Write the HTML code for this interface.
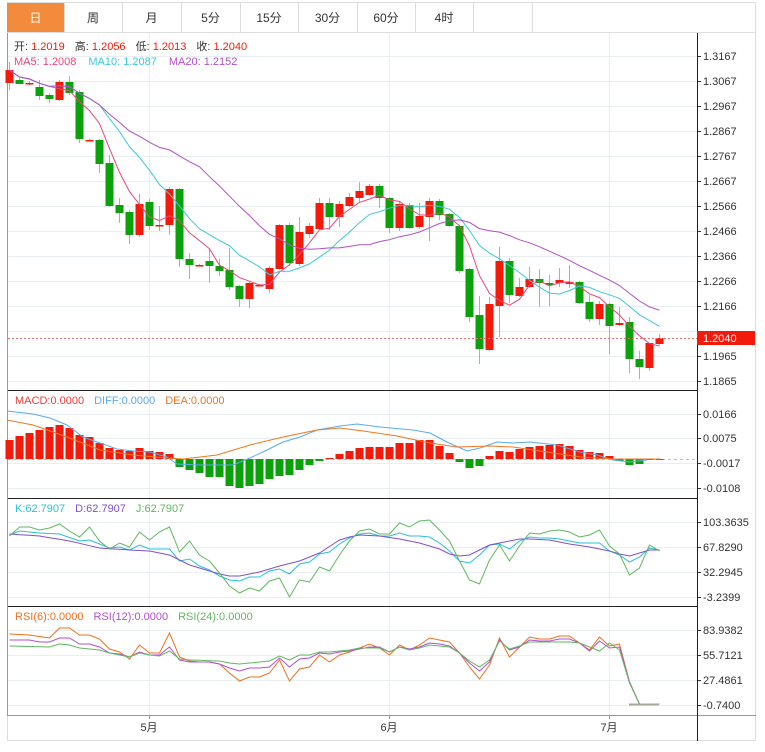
<!DOCTYPE html>
<html><head><meta charset="utf-8"><style>
html,body{margin:0;padding:0;background:#fff;width:765px;height:752px;overflow:hidden}
svg{display:block;font-family:"Liberation Sans","Noto Sans CJK SC",sans-serif}
</style></head><body>
<svg id="s" width="765" height="752" xmlns="http://www.w3.org/2000/svg"></svg>
<script>
var o=[];function A(t){o.push(t);}
A('<rect x="0" y="0" width="765" height="752" fill="#fff"/>');
A('<rect x="7.5" y="2.5" width="748" height="738" fill="none" stroke="#ddd"/>');
var tabs=["日","周","月","5分","15分","30分","60分","4时",""];var tx=[7,64,122,181,240,298,357,415,473,532];
A('<rect x="7" y="3" width="57" height="29" fill="#f28c3c"/>');
for(var i=0;i<9;i++){A('<line x1="'+(tx[i+1]+.5)+'" y1="3" x2="'+(tx[i+1]+.5)+'" y2="32" stroke="#ddd"/>');
A('<text x="'+(tx[i]+tx[i+1])/2+'" y="22" font-size="12" text-anchor="middle" fill="'+(i==0?'#fff':'#333')+'">'+tabs[i]+'</text>');}
A('<line x1="7" y1="32.5" x2="756" y2="32.5" stroke="#ddd"/>');
function hg(y){A('<line x1="8" y1="'+(y+.5)+'" x2="697" y2="'+(y+.5)+'" stroke="#e8eef2"/>');}
function lab(y,t){A('<line x1="697" y1="'+(y+.5)+'" x2="701" y2="'+(y+.5)+'" stroke="#333"/><text x="703" y="'+(y+4)+'" font-size="11" fill="#333">'+t+'</text>');}
var pl=["1.3167","1.3067","1.2967","1.2867","1.2767","1.2667","1.2566","1.2466","1.2366","1.2266","1.2166","1.2066","1.1965","1.1865"];
for(var k=0;k<14;k++){hg(56+25*k);}
[414,438,463,488].forEach(hg);[522,547,572,597].forEach(hg);[630,655,680,705].forEach(hg);
[149,389,609].forEach(function(x){A('<line x1="'+(x+.5)+'" y1="33" x2="'+(x+.5)+'" y2="715" stroke="#e8eef2"/>');});
for(var k=0;k<14;k++){if(k!=11)lab(56+25*k,pl[k]);}
lab(414,"0.0166");lab(438,"0.0075");lab(463,"-0.0017");lab(488,"-0.0108");
lab(522,"103.3635");lab(547,"67.8290");lab(572,"32.2945");lab(597,"-3.2399");
lab(630,"83.9382");lab(655,"55.7121");lab(680,"27.4861");lab(705,"-0.7400");
[390,498,606].forEach(function(y){A('<line x1="7" y1="'+(y+.5)+'" x2="697" y2="'+(y+.5)+'" stroke="#222"/>');});
A('<line x1="7.5" y1="33" x2="7.5" y2="715" stroke="#999"/>');
A('<line x1="7" y1="715.5" x2="756" y2="715.5" stroke="#999"/>');
A('<line x1="697.5" y1="33" x2="697.5" y2="741" stroke="#222"/>');
[[149,"5月"],[389,"6月"],[609,"7月"]].forEach(function(a){A('<line x1="'+(a[0]+.5)+'" y1="715" x2="'+(a[0]+.5)+'" y2="719" stroke="#999"/><text x="'+a[0]+'" y="731" font-size="11" text-anchor="middle" fill="#333">'+a[1]+'</text>');});
var C=[[83,70,62,90],[80,84,78,84],[83,83,81,85],[87,96,80,100],[95,99,93,103],[100,82,80,101],[82,93,76,95],[92,139,90,143],[140,140,139,141],[140,164,139,173],[163,206,155,207],[205,213,198,223],[212,235,210,244],[235,204,194,237],[202,226,199,230],[225,225,206,231],[225,189,187,235],[189,259,188,267],[259,265,253,279],[265,265,264,266],[261,266,248,283],[266,271,259,276],[270,287,248,290],[286,299,285,307],[299,283,282,308],[285,285,284,286],[289,268,266,293],[269,225,224,270],[225,263,223,266],[264,232,217,266],[234,226,223,238],[229,203,198,230],[203,217,198,230],[217,204,201,227],[206,197,193,207],[198,191,182,202],[195,186,184,196],[186,198,184,208],[198,228,197,233],[228,204,201,231],[205,228,203,229],[227,216,203,229],[217,201,198,241],[201,215,199,220],[214,226,213,227],[226,271,225,273],[269,317,268,322],[315,349,296,364],[350,304,297,351],[306,261,247,337],[261,295,258,303],[296,287,278,297],[287,279,267,288],[279,283,269,307],[283,285,275,306],[283,280,268,287],[284,282,265,288],[282,303,281,304],[302,319,295,322],[319,304,301,325],[304,326,303,354],[325,323,307,326],[322,359,317,373],[359,367,351,379],[368,343,343,371],[344,338,334,345]];
var n=C.length;function X(i){return 9.5+10*i;}
C.forEach(function(c,i){var up=c[1]<c[0];var col=up?'#f21a0a':'#0aa10a',wc=up?'#f59090':'#7fd07f';
var x=X(i);A('<line x1="'+x+'" y1="'+c[2]+'" x2="'+x+'" y2="'+c[3]+'" stroke="'+wc+'"/>');
var t=Math.min(c[0],c[1]),h=Math.max(Math.abs(c[0]-c[1]),1.5);if(c[0]==c[1])col='#f21a0a';
A('<rect x="'+(x-4)+'" y="'+t+'" width="8" height="'+h+'" fill="'+col+'"/>');});
function ma(p){var r=[];for(var i=0;i<n;i++){var s=0,m=0;for(var j=Math.max(0,i-p+1);j<=i;j++){s+=C[j][1];m++;}r.push(s/m);}return r;}
function pl2(arr,col,dash){var d=arr.map(function(v,i){return (i?'L':'M')+X(i)+' '+v.toFixed(1);}).join(' ');A('<path d="'+d+'" fill="none" stroke="'+col+'" stroke-width="1"'+(dash?' stroke-dasharray="'+dash+'"':'')+'/>');}
pl2(ma(5),'#f0457a');pl2(ma(10),'#3cc8dc');pl2(ma(20),'#b050c8');
A('<line x1="8" y1="338.5" x2="697" y2="338.5" stroke="#f07070" stroke-dasharray="2,2"/>');
A('<rect x="697" y="331" width="58" height="14" fill="#f21a0a"/><text x="703" y="342" font-size="11" fill="#fff">1.2040</text>');
A('<text x="14" y="50" font-size="11"><tspan fill="#333">开: </tspan><tspan fill="#f21a0a">1.2019</tspan><tspan fill="#333" dx="10">高: </tspan><tspan fill="#f21a0a">1.2056</tspan><tspan fill="#333" dx="10">低: </tspan><tspan fill="#f21a0a">1.2013</tspan><tspan fill="#333" dx="10">收: </tspan><tspan fill="#f21a0a">1.2040</tspan></text>');
A('<text x="14" y="65" font-size="11"><tspan fill="#f0457a">MA5:  1.2008</tspan><tspan fill="#3cc8dc" dx="12">MA10:  1.2087</tspan><tspan fill="#b050c8" dx="12">MA20:  1.2152</tspan></text>');
A('<text x="15" y="404" font-size="11"><tspan fill="#f03c3c">MACD:0.0000</tspan><tspan fill="#5aacf0" dx="10">DIFF:0.0000</tspan><tspan fill="#f07820" dx="10">DEA:0.0000</tspan></text>');
A('<text x="15" y="512" font-size="11"><tspan fill="#28c0d8">K:62.7907</tspan><tspan fill="#8050d0" dx="10">D:62.7907</tspan><tspan fill="#60b860" dx="10">J:62.7907</tspan></text>');
A('<text x="15" y="620" font-size="11"><tspan fill="#f07020">RSI(6):0.0000</tspan><tspan fill="#b050d0" dx="10">RSI(12):0.0000</tspan><tspan fill="#60b860" dx="10">RSI(24):0.0000</tspan></text>');
var Z=459;A('<line x1="8" y1="459.5" x2="697" y2="459.5" stroke="#9cc8e8" stroke-dasharray="3,3"/>');
var M=[440,436,433,430,427,425,428,435,437,443,448,450,451,448,451,452,454,467,470,473,477,477,486,488,486,484,479,476,475,470,465,461,458,454,451,448,447,447,447,443,443,440,440,446,453,462,468,466,456,451,452,449,447,446,445,444,446,450,452,453,456,461,465,464,460,460];
M.forEach(function(v,i){var up=v<Z;var t=Math.min(v,Z),h=Math.max(Math.abs(v-Z),1);A('<rect x="'+(X(i)-4)+'" y="'+t+'" width="8" height="'+h+'" fill="'+(up?'#f21a0a':'#0aa10a')+'"/>');});
function pts(a,col,dash){var d=a.map(function(p,i){return (i?'L':'M')+p[0]+' '+p[1];}).join(' ');A('<path d="'+d+'" fill="none" stroke="'+col+'"'+(dash?' stroke-dasharray="'+dash+'"':'')+'/>');}
pts([[7,411],[33,414],[50,418],[67,425],[83,437],[100,443],[117,449],[133,451],[150,452],[167,457],[177,464],[200,465],[233,465],[250,458],[267,450],[283,442],[300,437],[317,430],[340,426],[357,424],[380,427],[413,430],[430,433],[447,442],[467,451],[480,448],[497,442],[513,443],[530,442],[557,445],[580,452],[597,455],[613,460],[630,462],[647,460]],'#5aacf0');
pts([[7,420],[33,425],[67,437],[100,450],[133,455],[167,458],[183,459],[217,455],[250,445],[283,437],[317,430],[340,428],[363,431],[397,436],[430,443],[457,447],[490,446],[513,447],[547,452],[580,457],[613,459],[647,459],[660,459]],'#f07820');
function ser(obj,col){var a=[];var keys=Object.keys(obj).map(Number).sort(function(x,y){return x-y});
for(var i=0;i<n;i++){var v;if(obj[i]!==undefined)v=obj[i];else{var lo=keys.filter(function(k){return k<i}).pop(),hi=keys.filter(function(k){return k>i})[0];if(lo===undefined)v=obj[hi];else if(hi===undefined)v=obj[lo];else v=obj[lo]+(obj[hi]-obj[lo])*(i-lo)/(hi-lo);}a.push(v);}pl2(a,col);}
function arr(l){var o={};l.forEach(function(v,i){if(v!==null)o[i]=v;});return o;}
ser(arr([535,531,null,533,null,534,null,541,540,null,548,547,550,545,549,null,549,561,559,566,570,576,580,581,577,577,571,569,574,564,562,554,552,544,538,534,533,536,536,533,536,536,537,543,551,561,563,555,545,544,549,541,537,538,538,539,541,543,543,543,551,555,562,557,548,550]),'#28c0d8');
ser(arr([534,null,null,536,null,null,541,null,null,548,null,null,550,null,551,null,555,null,565,null,null,574,576,576,null,572,null,566,null,561,null,553,null,540,537,535,null,536,null,539,null,543,null,549,554,556,555,550,545,543,541,539,539,null,540,null,544,null,547,null,551,554,556,553,550,550]),'#8050d0');
ser(arr([536,527,527,530,528,524,531,537,527,541,549,543,547,532,540,532,527,552,541,555,561,573,586,593,588,591,581,578,597,580,582,567,571,555,541,531,529,534,534,523,527,521,520,530,541,561,580,584,560,545,561,546,533,534,531,530,532,537,535,530,546,554,575,568,545,551]),'#60b860');
ser(arr([634,null,635,null,638,628,628,635,635,639,649,652,659,645,653,653,633,657,661,662,662,664,673,681,677,677,673,660,681,669,667,655,662,655,652,648,644,648,655,645,650,645,638,640,642,653,667,679,665,638,657,647,637,639,639,636,636,643,650,637,646,644,682,704,704,704]),'#f07020');
ser(arr([640,null,640,642,642,638,638,644,644,647,653,654,657,652,655,655,647,660,662,null,662,664,668,671,668,668,667,658,667,659,658,653,654,652,651,649,647,647,652,647,649,647,643,644,646,653,663,671,662,640,650,647,640,641,641,639,639,643,651,641,648,647,682,704,704,704]),'#b050d0');
ser(arr([646,null,null,null,647,644,645,648,649,650,653,655,657,653,655,656,651,659,660,null,null,661,663,664,663,662,661,656,660,655,655,652,652,651,650,648,null,648,652,647,650,648,645,646,647,653,661,667,660,641,649,646,642,642,null,642,642,643,647,651,643,650,683,704,704,704]),'#60b860');
A('<line x1="629" y1="704.5" x2="659" y2="704.5" stroke="#aaa89a" stroke-width="2"/>');
document.getElementById('s').innerHTML=o.join('');
</script>
</body></html>
